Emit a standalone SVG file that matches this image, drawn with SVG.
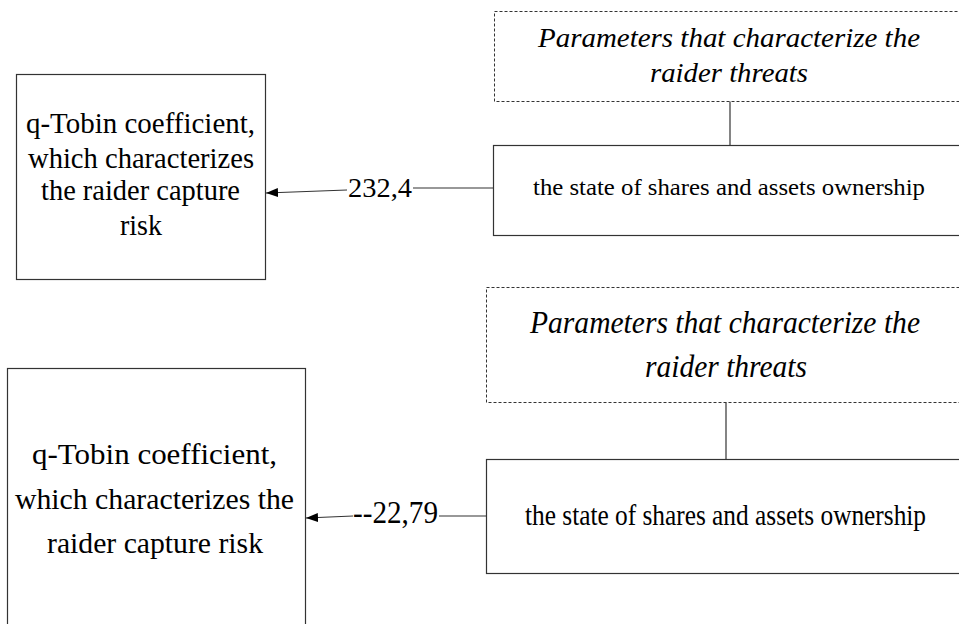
<svg xmlns="http://www.w3.org/2000/svg" width="959" height="624" viewBox="0 0 959 624">
<defs>
<style>
.box{fill:#fff;stroke:#333;stroke-width:1.2}
.dash{fill:#fff;stroke:#333;stroke-width:1;stroke-dasharray:3,2}
.ln{stroke:#333;stroke-width:1.2;fill:none}
.t{font-family:"Liberation Serif","Times New Roman",serif;fill:#000;text-anchor:middle}
.lbl{font-family:"Liberation Serif","Times New Roman",serif;fill:#000}
.it{font-style:italic}
</style>
<marker id="arr" viewBox="0 0 12 9" refX="12" refY="4.5" markerWidth="12" markerHeight="9" markerUnits="userSpaceOnUse" orient="auto">
<path d="M0,0 L12,4.5 L0,9 z" fill="#000"/>
</marker>
</defs>
<rect width="959" height="624" fill="#fff"/>
<g id="connectors">
<line class="ln" x1="730" y1="101" x2="730" y2="145"/>
<line class="ln" x1="493" y1="188" x2="413" y2="188"/>
<line class="ln" x1="347" y1="190" x2="266" y2="193" marker-end="url(#arr)"/>
<line class="ln" x1="726" y1="402" x2="726" y2="459"/>
<line class="ln" x1="486" y1="516" x2="439" y2="516"/>
<line class="ln" x1="353" y1="516" x2="306" y2="518" marker-end="url(#arr)"/>
<text class="lbl" x="348" y="197" font-size="28" textLength="64" lengthAdjust="spacingAndGlyphs">232,4</text>
<text class="lbl" x="353" y="523" font-size="32" textLength="85" lengthAdjust="spacingAndGlyphs">--22,79</text>
</g>
<g id="params1">
<rect class="dash" x="494.5" y="11.5" width="480" height="90"/>
<text class="t it" x="729" y="47" font-size="28" textLength="382" lengthAdjust="spacingAndGlyphs">Parameters that characterize the</text>
<text class="t it" x="729" y="82" font-size="28" textLength="158" lengthAdjust="spacingAndGlyphs">raider threats</text>
</g>
<g id="state1">
<rect class="box" x="493.5" y="145.5" width="480" height="90"/>
<text class="t" x="729" y="195" font-size="24" textLength="392" lengthAdjust="spacingAndGlyphs">the state of shares and assets ownership</text>
</g>
<g id="tobin1">
<rect class="box" x="16.5" y="74.5" width="249" height="205"/>
<text class="t" x="140.5" y="133" font-size="29" textLength="229" lengthAdjust="spacingAndGlyphs">q-Tobin coefficient,</text>
<text class="t" x="141" y="168" font-size="29" textLength="226" lengthAdjust="spacingAndGlyphs">which characterizes</text>
<text class="t" x="140.5" y="200" font-size="29" textLength="199" lengthAdjust="spacingAndGlyphs">the raider capture</text>
<text class="t" x="141" y="235" font-size="29" textLength="42" lengthAdjust="spacingAndGlyphs">risk</text>
</g>
<g id="params2">
<rect class="dash" x="486.5" y="287.5" width="480" height="115"/>
<text class="t it" x="725" y="333" font-size="32" textLength="390" lengthAdjust="spacingAndGlyphs">Parameters that characterize the</text>
<text class="t it" x="726" y="377" font-size="32" textLength="162" lengthAdjust="spacingAndGlyphs">raider threats</text>
</g>
<g id="state2">
<rect class="box" x="486.5" y="459.5" width="480" height="114"/>
<text class="t" x="725.5" y="525" font-size="29" textLength="401" lengthAdjust="spacingAndGlyphs">the state of shares and assets ownership</text>
</g>
<g id="tobin2">
<rect class="box" x="7.5" y="368.5" width="298" height="270"/>
<text class="t" x="154.5" y="464" font-size="30" textLength="245" lengthAdjust="spacingAndGlyphs">q-Tobin coefficient,</text>
<text class="t" x="154.5" y="509" font-size="30" textLength="279" lengthAdjust="spacingAndGlyphs">which characterizes the</text>
<text class="t" x="155" y="553" font-size="30" textLength="216" lengthAdjust="spacingAndGlyphs">raider capture risk</text>
</g>
</svg>
